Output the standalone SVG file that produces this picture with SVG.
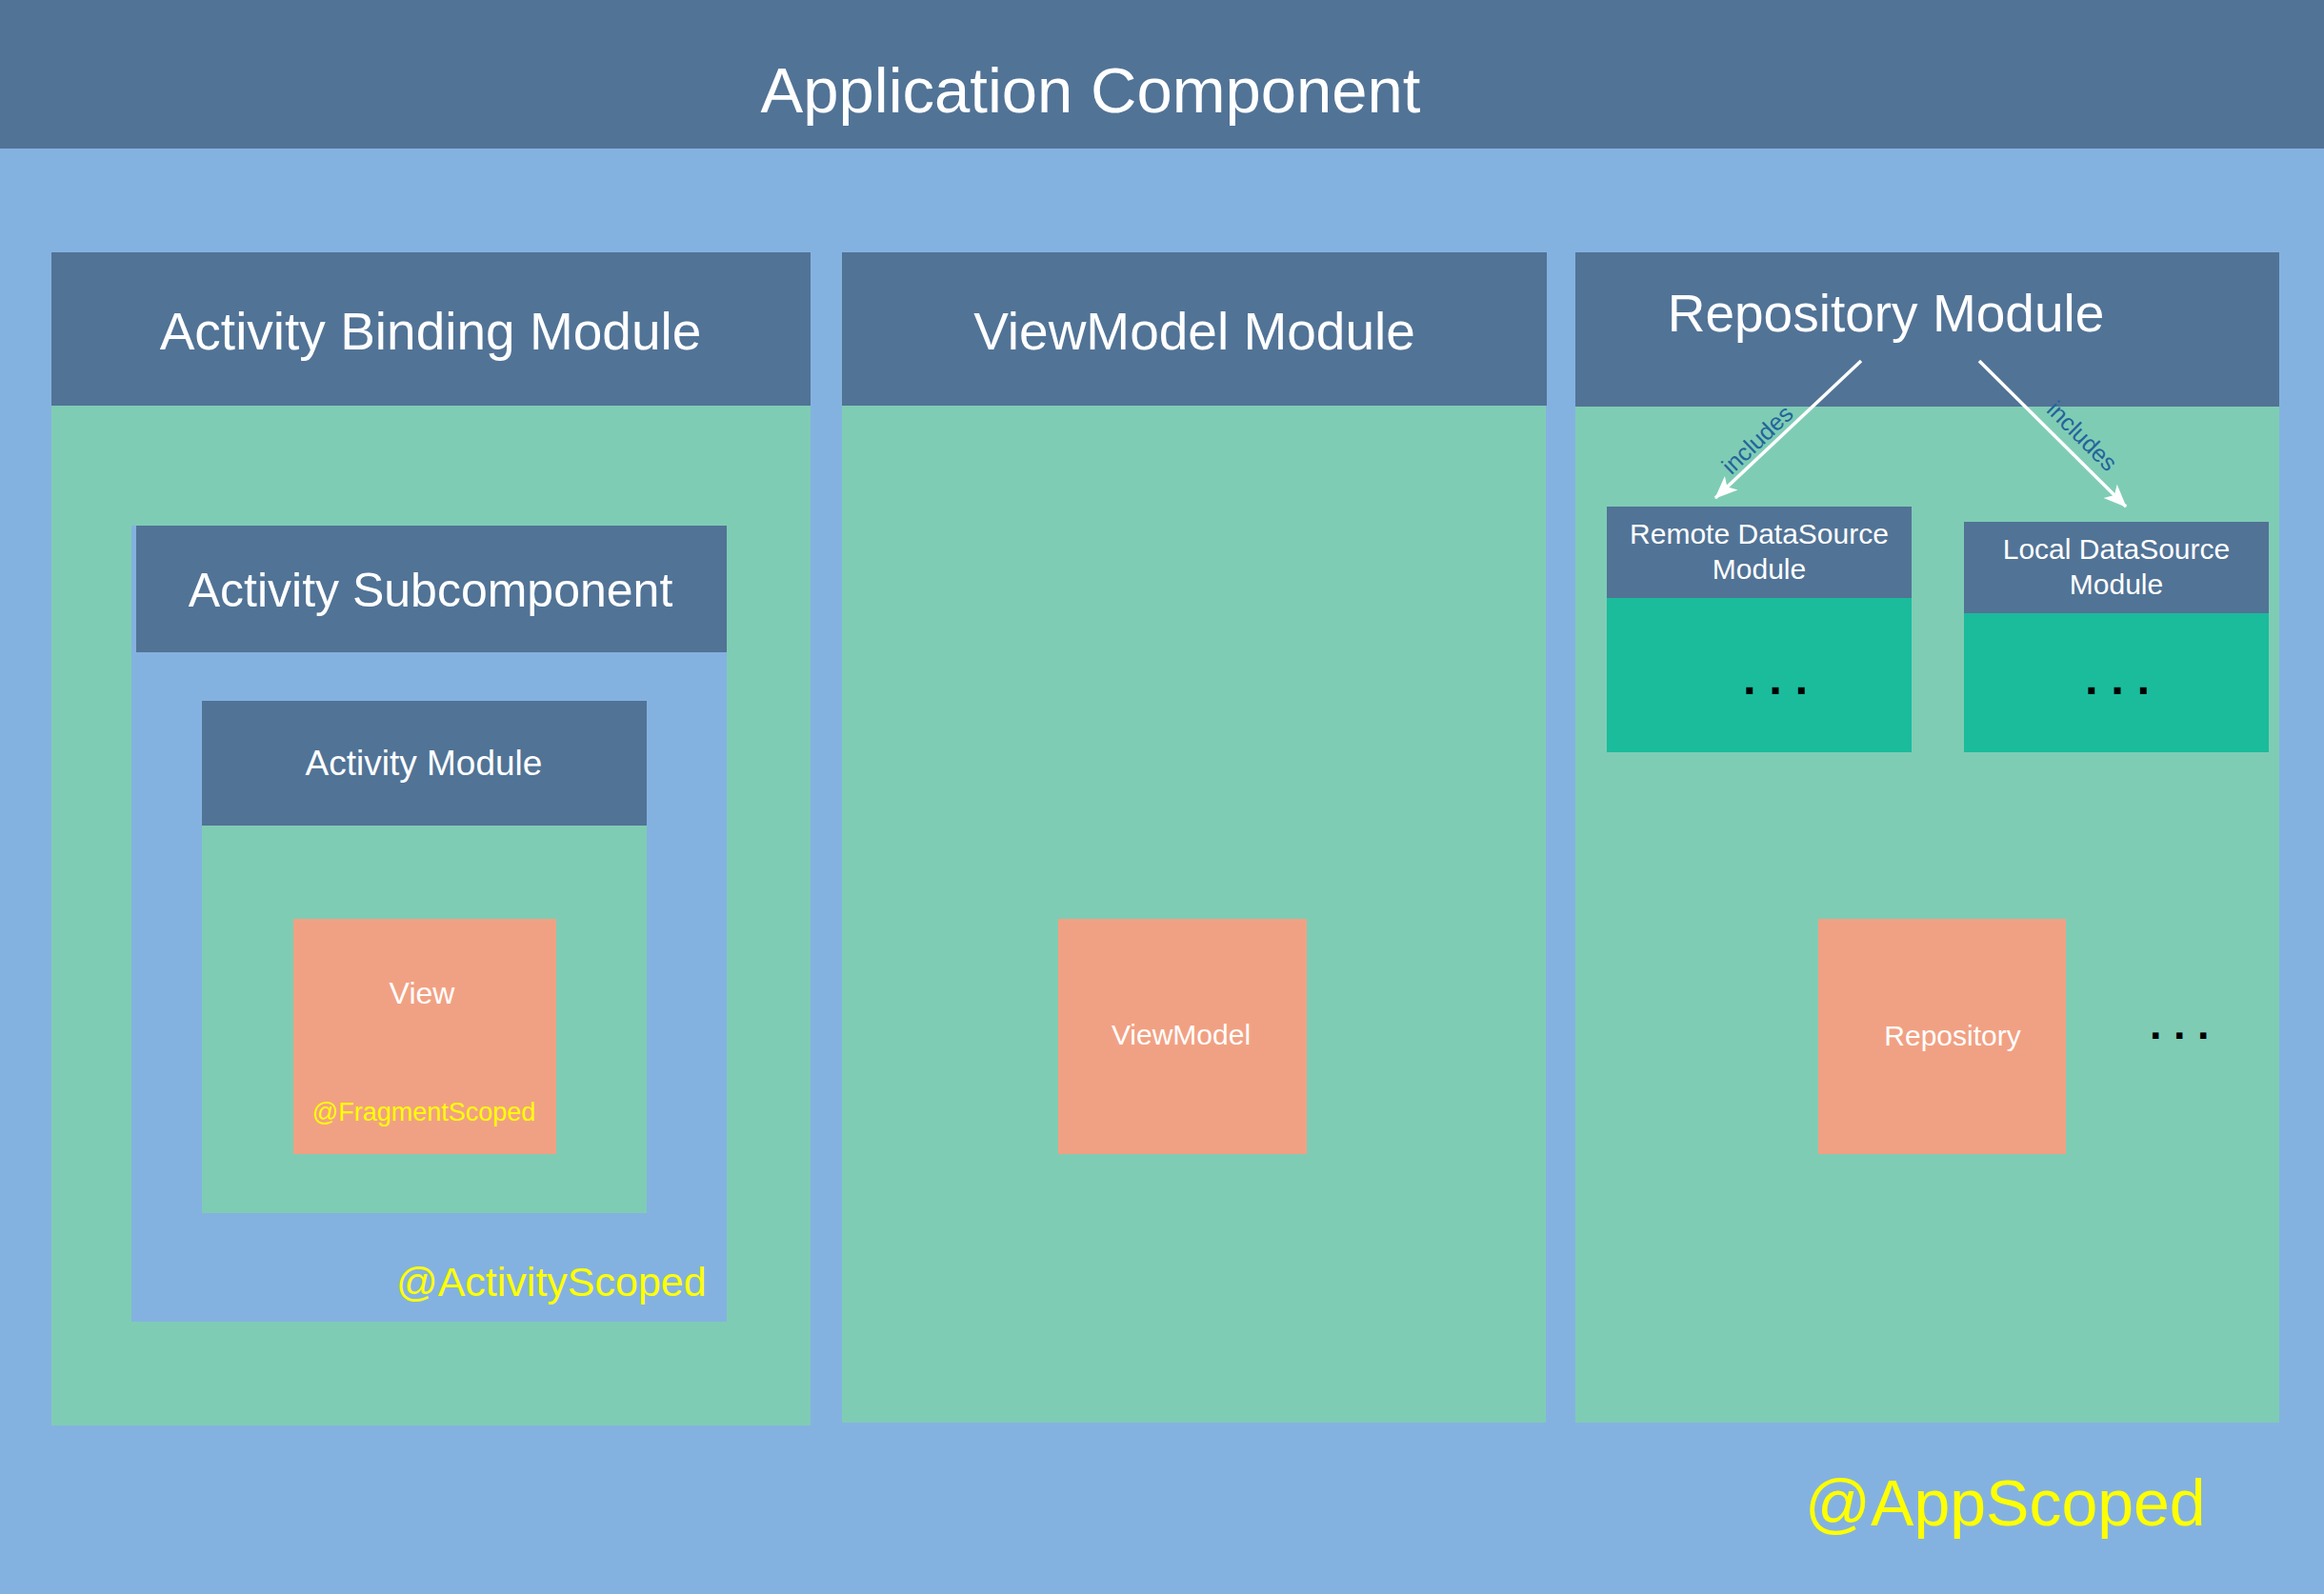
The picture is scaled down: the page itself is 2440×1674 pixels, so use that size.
<svg xmlns="http://www.w3.org/2000/svg" width="2440" height="1674" viewBox="0 0 2440 1674">
<defs>
<style>
.bg{fill:#84B2E0}
.hdr{fill:#517396}
.body{fill:#7FCCB5}
.leaf{fill:#F1A183}
.ds{fill:#1ABC9C}
text{font-family:"Liberation Sans",Arial,sans-serif}
.w{fill:#FFFFFF}
.y{fill:#FFFF00}
.dots{fill:#000000;font-weight:bold}
.inc{fill:#23649A;font-size:25px}
.edge{stroke:#FFFFFF;stroke-width:3.5;fill:none}
</style>
<marker id="arrow" markerUnits="userSpaceOnUse" markerWidth="26" markerHeight="22" refX="23" refY="10" orient="auto" viewBox="0 0 26 22">
<path d="M0,0 L24,10 L0,20 L6,10 z" fill="#FFFFFF"/>
</marker>
</defs>

<g id="application-component">
<rect class="bg" x="0" y="0" width="2440" height="1674"/>
<rect class="hdr" x="0" y="0" width="2440" height="156"/>
<text class="w" x="1145" y="118" font-size="67" text-anchor="middle">Application Component</text>
<text class="y" x="1895" y="1602" font-size="68">@AppScoped</text>
</g>

<g id="activity-binding-module">
<rect class="body" x="54" y="426" width="797" height="1071"/>
<rect class="hdr" x="54" y="265" width="797" height="161"/>
<text class="w" x="452" y="367" font-size="55" text-anchor="middle">Activity Binding Module</text>
</g>

<g id="activity-subcomponent">
<rect class="bg" x="138" y="552" width="625" height="836"/>
<rect class="hdr" x="143" y="552" width="620" height="133"/>
<text class="w" x="452" y="637" font-size="50" text-anchor="middle">Activity Subcomponent</text>
<text class="y" x="416" y="1361" font-size="43">@ActivityScoped</text>
</g>

<g id="activity-module">
<rect class="body" x="212" y="736" width="467" height="538"/>
<rect class="hdr" x="212" y="736" width="467" height="131"/>
<text class="w" x="445" y="814" font-size="37" text-anchor="middle">Activity Module</text>
</g>

<g id="view">
<rect class="leaf" x="308" y="965" width="276" height="247"/>
<text class="w" x="443" y="1054" font-size="32" text-anchor="middle">View</text>
<text class="y" x="445" y="1177" font-size="27" text-anchor="middle">@FragmentScoped</text>
</g>

<g id="viewmodel-module">
<rect class="body" x="884" y="426" width="739" height="1068"/>
<rect class="hdr" x="884" y="265" width="740" height="161"/>
<text class="w" x="1254" y="367" font-size="55" text-anchor="middle">ViewModel Module</text>
</g>

<g id="viewmodel">
<rect class="leaf" x="1111" y="965" width="261" height="247"/>
<text class="w" x="1240" y="1097" font-size="30" text-anchor="middle">ViewModel</text>
</g>

<g id="repository-module">
<rect class="body" x="1654" y="427" width="739" height="1067"/>
<rect class="hdr" x="1654" y="265" width="739" height="162"/>
<text class="w" x="1980" y="348" font-size="55" text-anchor="middle">Repository Module</text>
<text class="dots" x="2257" y="1091" font-size="45">. . .</text>
</g>

<g id="remote-datasource-module">
<rect class="ds" x="1687" y="628" width="320" height="162"/>
<rect class="hdr" x="1687" y="532" width="320" height="96"/>
<text class="w" x="1847" y="571" font-size="30" text-anchor="middle">Remote DataSource</text>
<text class="w" x="1847" y="608" font-size="30" text-anchor="middle">Module</text>
<text class="dots" x="1864" y="729" font-size="49" text-anchor="middle">. . .</text>
</g>

<g id="local-datasource-module">
<rect class="ds" x="2062" y="644" width="320" height="146"/>
<rect class="hdr" x="2062" y="548" width="320" height="96"/>
<text class="w" x="2222" y="587" font-size="30" text-anchor="middle">Local DataSource</text>
<text class="w" x="2222" y="624" font-size="30" text-anchor="middle">Module</text>
<text class="dots" x="2223" y="729" font-size="49" text-anchor="middle">. . .</text>
</g>

<g id="repository">
<rect class="leaf" x="1909" y="965" width="260" height="247"/>
<text class="w" x="2050" y="1098" font-size="30" text-anchor="middle">Repository</text>
</g>

<g id="connectors">
<line class="edge" x1="1954" y1="379" x2="1801" y2="523" marker-end="url(#arrow)"/>
<text class="inc" x="1851" y="468" text-anchor="middle" transform="rotate(-43.5 1851 468)">includes</text>
<line class="edge" x1="2078" y1="379" x2="2232" y2="532" marker-end="url(#arrow)"/>
<text class="inc" x="2180" y="464" text-anchor="middle" transform="rotate(44.8 2180 464)">includes</text>
</g>
</svg>
